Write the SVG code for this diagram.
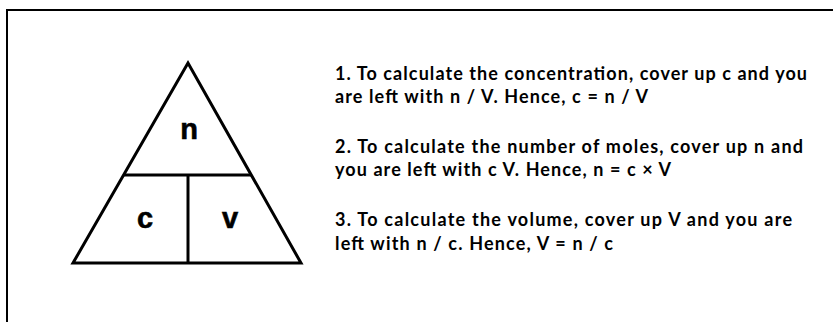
<svg xmlns="http://www.w3.org/2000/svg" width="833" height="322" viewBox="0 0 833 322">
<style>
.ln{fill:none;stroke:#000;stroke-width:3;stroke-linejoin:miter}
.lt{font-family:"Liberation Sans",Arial,sans-serif;font-weight:bold;font-size:29px;fill:#000;stroke:#000;stroke-width:0.6;text-anchor:middle}
.tx{font-family:Lato,"Liberation Sans",sans-serif;font-weight:bold;font-size:18px;fill:#000}
</style>
<rect width="833" height="322" fill="#fff"/>
<g id="frame">
<path d="M7,322 V10 H833" fill="none" stroke="#000" stroke-width="2"/>
</g>
<g id="triangle">
<polygon class="ln" points="188,63 73,263 301,263"/>
<line class="ln" x1="124" y1="175" x2="252" y2="175"/>
<line class="ln" x1="188" y1="175" x2="188" y2="263"/>
<text class="lt" x="189" y="139">n</text>
<text class="lt" x="145" y="228">c</text>
<text class="lt" x="230" y="228">v</text>
</g>
<g id="notes">
<text class="tx" x="335" y="80" textLength="472" lengthAdjust="spacing">1. To calculate the concentration, cover up c and you</text>
<text class="tx" x="335" y="103" textLength="313" lengthAdjust="spacing">are left with n / V. Hence, c = n / V</text>
<text class="tx" x="335" y="153" textLength="468" lengthAdjust="spacing">2. To calculate the number of moles, cover up n and</text>
<text class="tx" x="335" y="176" textLength="336" lengthAdjust="spacing">you are left with c V. Hence, n = c × V</text>
<text class="tx" x="335" y="226" textLength="457" lengthAdjust="spacing">3. To calculate the volume, cover up V and you are</text>
<text class="tx" x="335" y="250" textLength="278" lengthAdjust="spacing">left with n / c. Hence, V = n / c</text>
</g>
</svg>
